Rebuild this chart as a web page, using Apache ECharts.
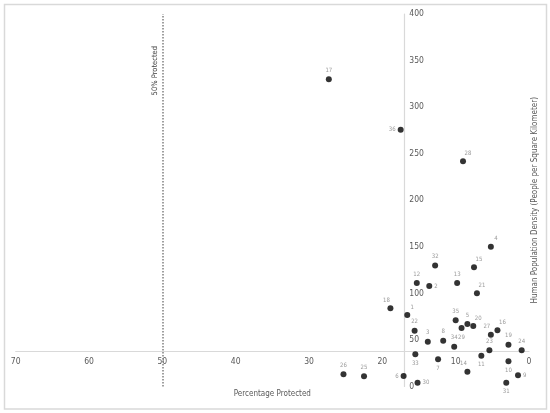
<!DOCTYPE html>
<html>
<head>
<meta charset="utf-8">
<script src="https://cdn.jsdelivr.net/npm/echarts@6/dist/echarts.min.js"></script>
<style>
  html, body { margin: 0; padding: 0; background: #fff; }
  #main { width: 550px; height: 413px; }
</style>
</head>
<body>
<div id="main"></div>
<script>
// site numbers, % protected (x) and people per km2 (y)
const siteIds = [1, 2, 3, 4, 5, 6, 7, 8, 9, 10, 11, 12, 13, 14, 15, 16, 17, 18,
                 19, 20, 21, 22, 23, 24, 25, 26, 27, 28, 29, 30, 31, 32, 33, 34, 35, 36];
const pctProtected = [16.6, 13.6, 13.8, 5.2, 8.4, 17.1, 12.4, 11.7, 1.5, 2.8, 6.5, 15.3,
                      9.8, 8.4, 7.5, 4.3, 27.3, 18.9, 2.8, 7.6, 7.1, 15.6, 5.4, 1.0,
                      22.5, 25.3, 5.2, 9.0, 9.2, 15.2, 3.1, 12.8, 15.5, 10.2, 10.0, 17.5];
const popDensity = [76.8, 107.9, 48.1, 150.2, 67.1, 11.3, 29.2, 49.2, 12.0, 27.1, 33.1, 111.2,
                    111.2, 15.9, 128.0, 60.4, 330.0, 84.0, 44.9, 65.0, 100.1, 59.9, 38.9, 38.9,
                    11.0, 13.1, 55.6, 241.9, 62.8, 4.1, 4.1, 129.8, 34.6, 42.7, 71.1, 275.8];
const xTicks = [0, 10, 20, 30, 40, 50, 60, 70];
const yTicks = [0, 50, 100, 150, 200, 250, 300, 350, 400];
const threshold = 50;       // 50% protected line
const xCross = 17;          // where the vertical axis crosses
const yCross = 38;          // where the horizontal axis crosses

// where each number label sits relative to its dot
const labelRight = [2, 30, 9];
const labelLeft = [36, 6];
const labelBottom = [29, 33, 7, 11, 10, 31];
const labelTopRight = [28, 4, 15, 21, 1, 20, 16];
const labelTopLeft = [18, 27, 14];

const FONT = "'Liberation Sans Narrow', 'DejaVu Sans Condensed', 'Liberation Sans', sans-serif";

function labelFor(id) {
    if (labelRight.includes(id)) return { position: 'right', distance: 2 };
    if (labelLeft.includes(id)) return { position: 'left', distance: 2 };
    if (labelBottom.includes(id)) return { position: 'bottom', distance: 3 };
    if (labelTopRight.includes(id)) return { position: 'top', offset: [5, 1], distance: 3 };
    if (labelTopLeft.includes(id)) return { position: 'top', offset: [-4, 1], distance: 3 };
    return { position: 'top', distance: 3 };
}

const points = siteIds.map((id, i) => ({
    value: [pctProtected[i], popDensity[i]],
    name: String(id),
    label: labelFor(id)
}));

const gridBox = { left: 15.7, right: 21, top: 14, bottom: 26.5 };

const chart = echarts.init(document.getElementById('main'));

chart.setOption({
    animation: false,
    textStyle: { fontFamily: FONT },
    graphic: [{
        type: 'rect',
        z: -1,
        shape: { x: 4.5, y: 4.5, width: 542, height: 404.5 },
        style: { fill: 'none', stroke: '#d9d9d9', lineWidth: 1.5 }
    }],
    grid: Object.assign({ containLabel: false, outerBoundsMode: 'none' }, gridBox),
    xAxis: {
        type: 'value',
        inverse: true,
        min: xTicks[0],
        max: xTicks[xTicks.length - 1],
        interval: 10,
        position: 'bottom',
        axisLine: { onZero: false, lineStyle: { color: '#d9d9d9', width: 1.2 } },
        axisTick: { show: false },
        splitLine: { show: false },
        axisLabel: { color: '#595959', fontSize: 8.5, margin: 6, fontFamily: FONT },
        name: 'Percentage Protected',
        nameLocation: 'middle',
        nameGap: 39,
        nameTextStyle: { color: '#595959', fontSize: 8, fontFamily: FONT }
    },
    yAxis: {
        type: 'value',
        min: yTicks[0],
        max: yTicks[yTicks.length - 1],
        interval: 50,
        position: 'right',
        axisLine: { onZero: false, lineStyle: { color: '#d9d9d9', width: 1.2 } },
        axisTick: { show: false },
        splitLine: { show: false },
        axisLabel: { color: '#595959', fontSize: 8.5, margin: 5, fontFamily: FONT },
        name: 'Human Population Density (People per Square Kilometer)',
        nameLocation: 'middle',
        nameRotate: 90,
        nameGap: 127,
        nameTextStyle: { color: '#595959', fontSize: 8, fontFamily: FONT }
    },
    series: [{
        type: 'scatter',
        symbol: 'circle',
        symbolSize: 6,
        itemStyle: { color: '#000' },
        label: {
            show: true,
            formatter: '{b}',
            color: '#7f7f7f',
            fontSize: 6,
            fontFamily: FONT
        },
        data: points,
        markLine: {
            silent: true,
            symbol: 'none',
            lineStyle: { type: 'dotted', color: '#808080', width: 1.5 },
            label: {
                show: true,
                formatter: '50% Protected',
                position: 'insideEndTop',
                distance: [32, 3],
                color: '#404040',
                fontSize: 7.5,
                fontFamily: FONT
            },
            data: [[
                { coord: [threshold, yTicks[0]] },
                { coord: [threshold, yTicks[yTicks.length - 1]] }
            ]]
        }
    }]
});

// move the axes to where they cross in the original chart
const cross = chart.convertToPixel({ gridIndex: 0 }, [xCross, yCross]);
const gridBottomPx = 413 - gridBox.bottom;
const gridRightPx = 550 - gridBox.right;
chart.setOption({
    xAxis: { offset: -(gridBottomPx - cross[1]) },
    yAxis: { offset: -(gridRightPx - cross[0]) }
});
</script>
</body>
</html>
